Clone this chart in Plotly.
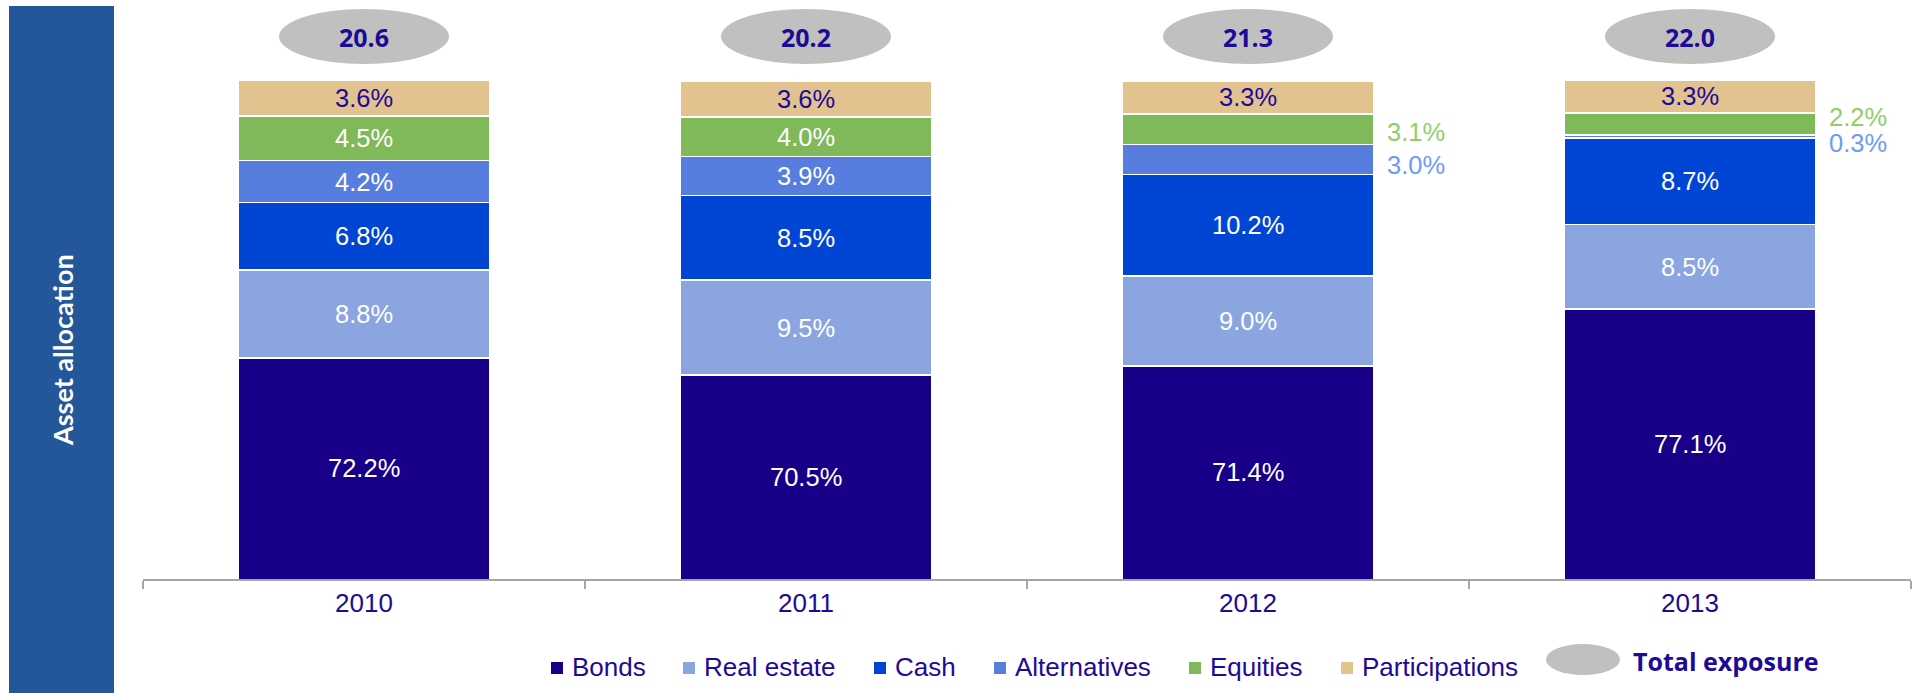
import plotly.graph_objects as go

# ---------------- data ----------------
years = ["2010", "2011", "2012", "2013"]
series_names = ["Bonds", "Real estate", "Cash", "Alternatives", "Equities", "Participations"]
bonds = [72.2, 70.5, 71.4, 77.1]
real_estate = [8.8, 9.5, 9.0, 8.5]
cash = [6.8, 8.5, 10.2, 8.7]
alternatives = [4.2, 3.9, 3.0, 0.3]
equities = [4.5, 4.0, 3.1, 2.2]
participations = [3.6, 3.6, 3.3, 3.3]
total_exposure = [20.6, 20.2, 21.3, 22.0]
total_label = "Total exposure"
side_title = "Asset allocation"

# ---------------- style ----------------
series_values = [bonds, real_estate, cash, alternatives, equities, participations]
colors = ["#180088", "#8AA5E0", "#0045D4", "#577EDF", "#80B95A", "#E2C38F"]
label_colors = ["white", "white", "white", "white", "white", "#1E0A96"]
outside_colors = {3: "#6E9BF7", 4: "#8FCF6A"}
NAVY = "#1E0A96"
AXIS_GRAY = "#A6A6A6"
SIDE_BLUE = "#23579A"
ARIAL = "Liberation Sans"
BOLDF = "Open Sans"
SIDEF = "Lato"
LBL_SIZE = 25.5
TXT_SIZE = 26

W, H = 1923, 693
PL, PR, PT, PB = 143, 1911, 9, 579          # plot area in pixels
Y_FLOOR = 50.0                               # broken axis starts at 50%
PX_PER_UNIT = 9.96
Y_TOP = Y_FLOOR + (PB - PT) / PX_PER_UNIT
BAR_W = 0.568

# labels drawn outside the bar (year index, series index) -> vertical shift in px
outside = {(2, 4): -3, (2, 3): -5, (3, 4): 7, (3, 3): -7}


def px(xp):
    return (xp - PL) / (PR - PL)


def py(yp):
    return (PB - yp) / (PB - PT)


fig = go.Figure()
for name, vals, col in zip(series_names, series_values, colors):
    fig.add_trace(go.Bar(
        x=years, y=vals, name=name, marker=dict(color=col, line=dict(color="white", width=1.5)),
        showlegend=False, hoverinfo="x+y+name",
    ))

annotations = []
shapes = []

# segment labels
for i, yr in enumerate(years):
    base = 0.0
    for s, vals in enumerate(series_values):
        v = vals[i]
        lo = max(base, Y_FLOOR)
        hi = base + v
        mid = (lo + hi) / 2
        txt = f"{v:.1f}%"
        if (i, s) in outside:
            annotations.append(dict(
                x=i + BAR_W / 2, y=mid, xref="x", yref="y", text=txt, showarrow=False,
                xanchor="left", yanchor="middle", xshift=11, yshift=outside[(i, s)],
                font=dict(family=ARIAL, size=LBL_SIZE, color=outside_colors[s])))
        else:
            annotations.append(dict(
                x=i, y=mid, xref="x", yref="y", text=txt, showarrow=False,
                xanchor="center", yanchor="middle",
                font=dict(family=ARIAL, size=LBL_SIZE, color=label_colors[s])))
        base = hi

# total exposure ellipses
EW = 170 / (PR - PL) * 4 / 2
for i, t in enumerate(total_exposure):
    shapes.append(dict(type="circle", xref="x", yref="paper",
                       x0=i - EW, x1=i + EW, y0=py(64), y1=py(9),
                       fillcolor="#C0C0C0", line=dict(width=0), layer="above"))
    annotations.append(dict(x=i, y=py(37), xref="x", yref="paper", text=f"{t:.1f}",
                            showarrow=False, xanchor="center", yanchor="middle",
                            font=dict(family=BOLDF, size=25, color=NAVY, weight="bold")))

# side bar
shapes.append(dict(type="rect", xref="paper", yref="paper", x0=px(9), x1=px(114),
                   y0=py(700), y1=py(6), fillcolor=SIDE_BLUE, line=dict(width=0), layer="below"))
annotations.append(dict(x=px(62), y=py(350), xref="paper", yref="paper", text=side_title,
                        textangle=-90, showarrow=False, xanchor="center", yanchor="middle",
                        font=dict(family=SIDEF, size=27, color="white", weight="bold")))

# legend (manual)
leg_left = [551, 683, 874, 994, 1189, 1341]
LEG_Y = 668
for name, col, xl in zip(series_names, colors, leg_left):
    shapes.append(dict(type="rect", xref="paper", yref="paper", x0=px(xl), x1=px(xl + 12),
                       y0=py(LEG_Y + 6), y1=py(LEG_Y - 6), fillcolor=col, line=dict(width=0)))
    annotations.append(dict(x=px(xl + 19), y=py(LEG_Y - 1), xref="paper", yref="paper", text=name,
                            showarrow=False, xanchor="left", yanchor="middle",
                            font=dict(family=ARIAL, size=TXT_SIZE, color=NAVY)))
shapes.append(dict(type="circle", xref="paper", yref="paper", x0=px(1546), x1=px(1620),
                   y0=py(675), y1=py(644), fillcolor="#C0C0C0", line=dict(width=0)))
annotations.append(dict(x=px(1631), y=py(661), xref="paper", yref="paper", text=total_label,
                        showarrow=False, xanchor="left", yanchor="middle",
                        font=dict(family=BOLDF, size=25, color=NAVY, weight="bold")))

fig.update_layout(
    width=W, height=H,
    margin=dict(l=PL, r=W - PR, t=PT, b=H - PB, pad=0),
    barmode="stack", bargap=1 - BAR_W,
    paper_bgcolor="white", plot_bgcolor="white",
    showlegend=False,
    xaxis=dict(showline=True, linecolor=AXIS_GRAY, linewidth=1.5, ticks="outside", ticklen=8,
               tickcolor=AXIS_GRAY, tickwidth=1.5, tickson="boundaries", showgrid=False,
               tickfont=dict(family=ARIAL, size=TXT_SIZE, color=NAVY), fixedrange=True),
    yaxis=dict(visible=False, range=[Y_FLOOR, Y_TOP], showgrid=False, zeroline=False, fixedrange=True),
    annotations=annotations, shapes=shapes,
)

fig.write_html("out.html", config={"displayModeBar": False},
               post_script="document.body.style.margin='0';document.body.style.overflow='hidden';")
